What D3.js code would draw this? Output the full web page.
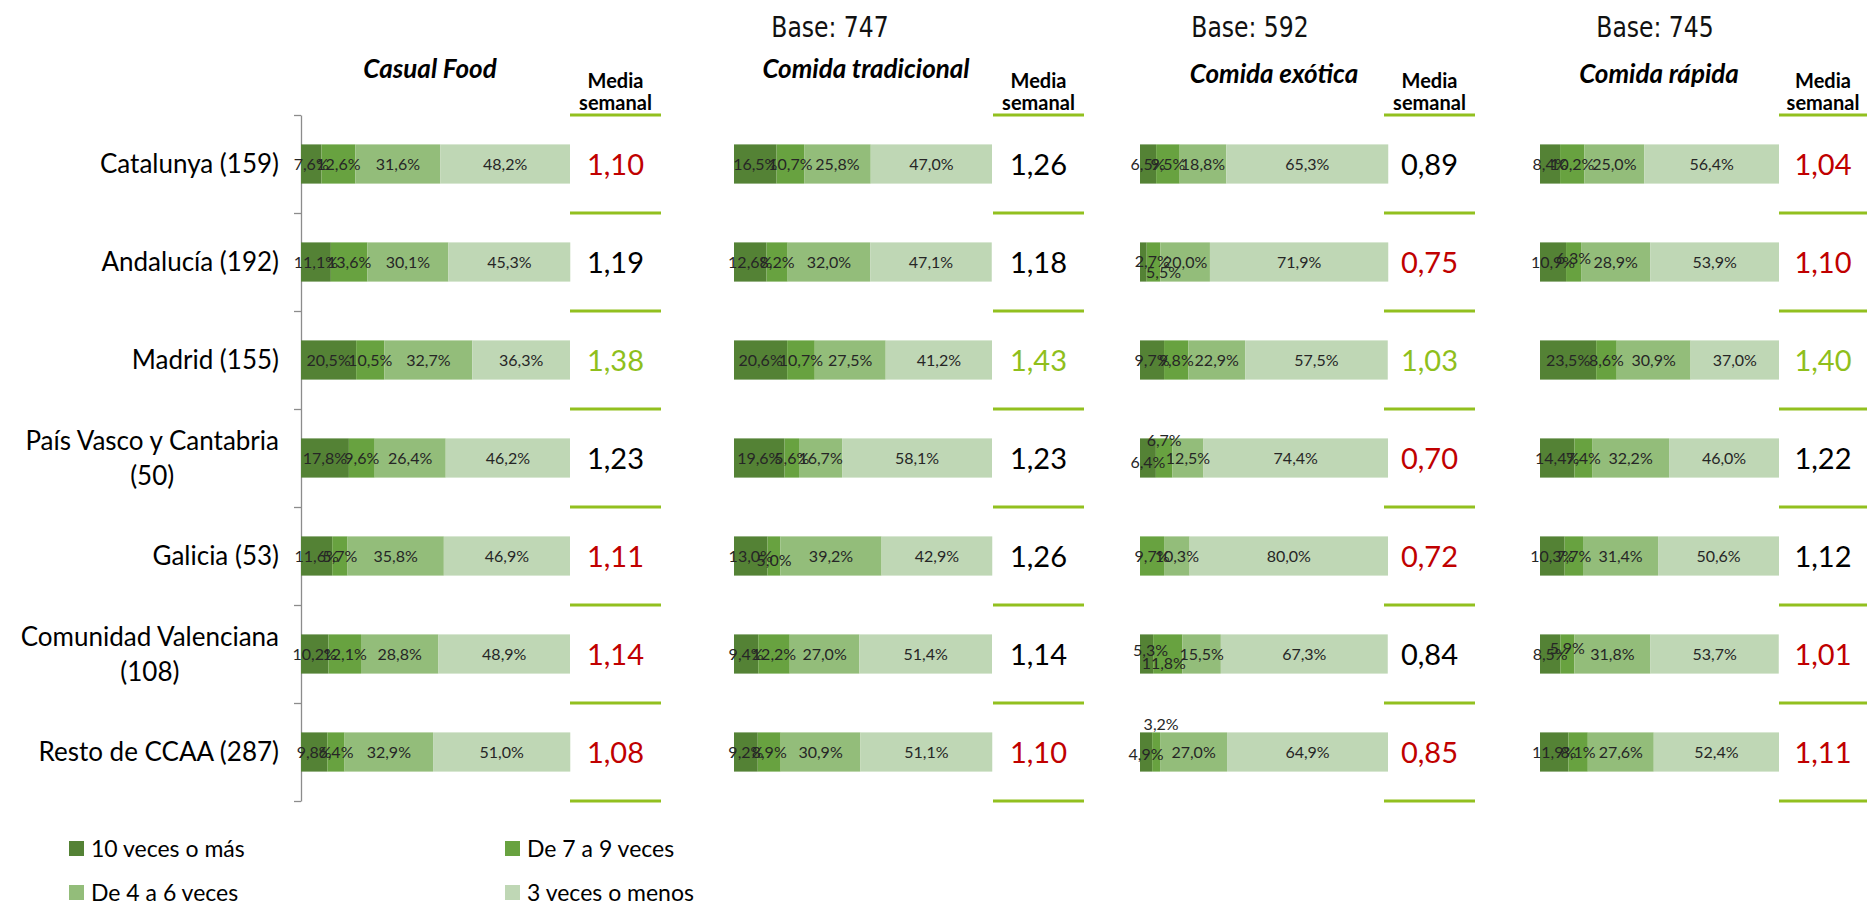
<!DOCTYPE html>
<html>
<head>
<meta charset="utf-8">
<script src="https://cdn.jsdelivr.net/npm/d3@7"></script>
<style>
  body { margin: 0; background: #fff; }
  svg { display: block; font-family: Lato, "Open Sans", sans-serif; }
</style>
</head>
<body>
<div id="chart"></div>
<script>
// data
var categories = ["Catalunya (159)", "Andalucía (192)", "Madrid (155)", "País Vasco y Cantabria (50)",
                  "Galicia (53)", "Comunidad Valenciana (108)", "Resto de CCAA (287)"];
var series = ["10 veces o más", "De 7 a 9 veces", "De 4 a 6 veces", "3 veces o menos"];
var panelTitles = ["Casual Food", "Comida tradicional", "Comida exótica", "Comida rápida"];
var bases = [null, 747, 592, 745];

var casualFood = [[7.6, 12.6, 31.6, 48.2], [11.1, 13.6, 30.1, 45.3], [20.5, 10.5, 32.7, 36.3], [17.8, 9.6, 26.4, 46.2],
                  [11.6, 5.7, 35.8, 46.9], [10.2, 12.1, 28.8, 48.9], [9.8, 6.4, 32.9, 51.0]];
var tradicional = [[16.5, 10.7, 25.8, 47.0], [12.6, 8.2, 32.0, 47.1], [20.6, 10.7, 27.5, 41.2], [19.6, 5.6, 16.7, 58.1],
                   [13.0, 5.0, 39.2, 42.9], [9.4, 12.2, 27.0, 51.4], [9.2, 8.9, 30.9, 51.1]];
var exotica = [[6.5, 9.5, 18.8, 65.3], [2.7, 5.5, 20.0, 71.9], [9.7, 9.8, 22.9, 57.5], [6.4, 6.7, 12.5, 74.4],
               [0, 9.7, 10.3, 80.0], [5.3, 11.8, 15.5, 67.3], [4.9, 3.2, 27.0, 64.9]];
var rapida = [[8.4, 10.2, 25.0, 56.4], [10.9, 6.3, 28.9, 53.9], [23.5, 8.6, 30.9, 37.0], [14.4, 7.4, 32.2, 46.0],
              [10.3, 7.7, 31.4, 50.6], [8.5, 5.9, 31.8, 53.7], [11.9, 8.1, 27.6, 52.4]];

var mediaCasual = [1.10, 1.19, 1.38, 1.23, 1.11, 1.14, 1.08];
var mediaTradicional = [1.26, 1.18, 1.43, 1.23, 1.26, 1.14, 1.10];
var mediaExotica = [0.89, 0.75, 1.03, 0.70, 0.72, 0.84, 0.85];
var mediaRapida = [1.04, 1.10, 1.40, 1.22, 1.12, 1.01, 1.11];

// "low" / "avg" / "high" as marked in the original
var flagCasual = ["low", "avg", "high", "avg", "low", "low", "low"];
var flagTradicional = ["avg", "avg", "high", "avg", "avg", "avg", "low"];
var flagExotica = ["avg", "low", "high", "low", "low", "avg", "low"];
var flagRapida = ["low", "low", "high", "avg", "avg", "low", "low"];

var panelData = [casualFood, tradicional, exotica, rapida];
var panelMedia = [mediaCasual, mediaTradicional, mediaExotica, mediaRapida];
var panelFlags = [flagCasual, flagTradicional, flagExotica, flagRapida];

var width = 1867, height = 908;
var colors = ["#548235", "#68a240", "#93bd7a", "#bfd7b5"];
var flagColor = { low: "#c00000", avg: "#000000", high: "#8fbf1c" };
var lineGreen = "#92c01f";

// layout of each panel: bar start/end, media column
var layout = [
  { x0: 301, x1: 570, m0: 570, m1: 661, title: 430, titleY: 78 },
  { x0: 734, x1: 992, m0: 993, m1: 1084, title: 866, titleY: 78 },
  { x0: 1140, x1: 1388, m0: 1384, m1: 1475, title: 1274, titleY: 83 },
  { x0: 1540, x1: 1779, m0: 1779, m1: 1867, title: 1659, titleY: 83 }
];
var baseX = [0, 830, 1250, 1655];

// hand nudges for overlapping labels, "panel-row-seg": [dx, dy]
var nudge = {
  "1-4-1": [0, 4],
  "2-1-0": [9, -1], "2-1-1": [10, 10],
  "2-3-0": [0, 4], "2-3-1": [0, -18],
  "2-5-0": [4, -4], "2-5-1": [-4, 9],
  "2-6-0": [0, 2], "2-6-1": [5, -28],
  "3-1-1": [0, -4], "3-5-1": [0, -6]
};

var svg = d3.select("#chart").append("svg")
    .attr("width", width)
    .attr("height", height);

var y = d3.scaleBand()
    .domain(categories)
    .range([115, 801])
    .paddingInner(0.6)
    .paddingOuter(0.3);

var edges = d3.scaleLinear().domain([0, categories.length]).range([115, 801]);

// left axis with ticks between the categories
svg.append("g")
    .attr("transform", "translate(301,0)")
    .call(d3.axisLeft(edges).tickValues(d3.range(categories.length + 1)).tickFormat("").tickSize(7).tickSizeOuter(0))
    .call(function(g) {
      g.selectAll("line, path").attr("stroke", "#8c8c8c").attr("stroke-width", 1.3);
    });

// category labels, long ones wrapped in two centred lines
categories.forEach(function(c) {
  var cy = y(c) + y.bandwidth() / 2;
  var lines = c.length > 20 ? [c.slice(0, c.lastIndexOf(" (")), c.slice(c.lastIndexOf(" (") + 1)] : [c];
  var t = svg.append("text")
      .attr("font-size", 26)
      .attr("fill", "#000");
  if (lines.length == 1) {
    t.attr("x", 279).attr("y", cy + 9).attr("text-anchor", "end").text(c);
  } else {
    t.attr("text-anchor", "middle").attr("y", cy - 8).text(lines[0]);
    var w = t.node().getComputedTextLength();
    t.attr("x", 279 - w / 2);
    svg.append("text")
        .attr("font-size", 26)
        .attr("text-anchor", "middle")
        .attr("x", 279 - w / 2)
        .attr("y", cy + 27)
        .text(lines[1]);
  }
});

panelData.forEach(function(rows, p) {
  var L = layout[p];
  var x = d3.scaleLinear().domain([0, 100]).range([L.x0, L.x1]);
  var g = svg.append("g");

  if (bases[p]) {
    // tall, narrow lettering like the original
    var bt = svg.append("text")
        .attr("x", baseX[p]).attr("y", 37)
        .attr("text-anchor", "middle")
        .attr("font-family", "'Liberation Sans Narrow', 'DejaVu Sans Condensed', sans-serif")
        .attr("font-size", 29)
        .attr("fill", "#111")
        .text("Base: " + bases[p]);
    var bw = bt.node().getComputedTextLength();
    bt.attr("textLength", bw * 0.9).attr("lengthAdjust", "spacingAndGlyphs");
  }

  svg.append("text")
      .attr("x", L.title).attr("y", L.titleY)
      .attr("text-anchor", "middle")
      .attr("font-weight", "bold")
      .attr("font-style", "italic")
      .attr("font-size", 26)
      .text(panelTitles[p]);

  var mc = (L.m0 + L.m1) / 2;
  svg.append("text")
      .attr("x", mc).attr("y", 88)
      .attr("text-anchor", "middle").attr("font-weight", "bold").attr("font-size", 20)
      .text("Media");
  svg.append("text")
      .attr("x", mc).attr("y", 110)
      .attr("text-anchor", "middle").attr("font-weight", "bold").attr("font-size", 20)
      .text("semanal");

  // stacked segments
  var stacked = rows.map(function(r, i) {
    var acc = 0;
    return r.map(function(v, s) {
      var seg = { row: i, s: s, v: v, a: acc, b: acc + v };
      acc += v;
      return seg;
    });
  });

  stacked.forEach(function(segs, i) {
    var cat = categories[i];
    g.selectAll(null)
        .data(segs.filter(function(d) { return d.v > 0; }))
      .enter().append("rect")
        .attr("x", function(d) { return x(d.a); })
        .attr("y", y(cat))
        .attr("width", function(d) { return x(d.b) - x(d.a); })
        .attr("height", y.bandwidth())
        .attr("fill", function(d) { return colors[d.s]; });

    g.selectAll(null)
        .data(segs.filter(function(d) { return d.v > 0; }))
      .enter().append("text")
        .attr("x", function(d) {
          var n = nudge[p + "-" + i + "-" + d.s];
          return x((d.a + d.b) / 2) + (n ? n[0] : 0);
        })
        .attr("y", function(d) {
          var n = nudge[p + "-" + i + "-" + d.s];
          return y(cat) + y.bandwidth() / 2 + 6 + (n ? n[1] : 0);
        })
        .attr("text-anchor", "middle")
        .attr("font-size", 16)
        .attr("fill", "#262626")
        .text(function(d) { return d.v.toFixed(1).replace(".", ",") + "%"; });
  });

  // media column
  d3.range(categories.length + 1).forEach(function(k) {
    svg.append("line")
        .attr("x1", L.m0).attr("x2", L.m1)
        .attr("y1", edges(k)).attr("y2", edges(k))
        .attr("stroke", lineGreen).attr("stroke-width", 3);
  });

  panelMedia[p].forEach(function(v, i) {
    svg.append("text")
        .attr("x", mc)
        .attr("y", y(categories[i]) + y.bandwidth() / 2 + 11)
        .attr("text-anchor", "middle")
        .attr("font-size", 29)
        .attr("fill", flagColor[panelFlags[p][i]])
        .text(v.toFixed(2).replace(".", ","));
  });
});

// legend, two by two
var legend = svg.append("g");
series.forEach(function(s, i) {
  var lx = i % 2 == 0 ? 69 : 505;
  var ly = i < 2 ? 849 : 893;
  legend.append("rect")
      .attr("x", lx).attr("y", ly - 8)
      .attr("width", 15).attr("height", 15)
      .attr("fill", colors[i]);
  legend.append("text")
      .attr("x", lx + 22).attr("y", ly + 8)
      .attr("font-size", 23)
      .text(s);
});
</script>
</body>
</html>
